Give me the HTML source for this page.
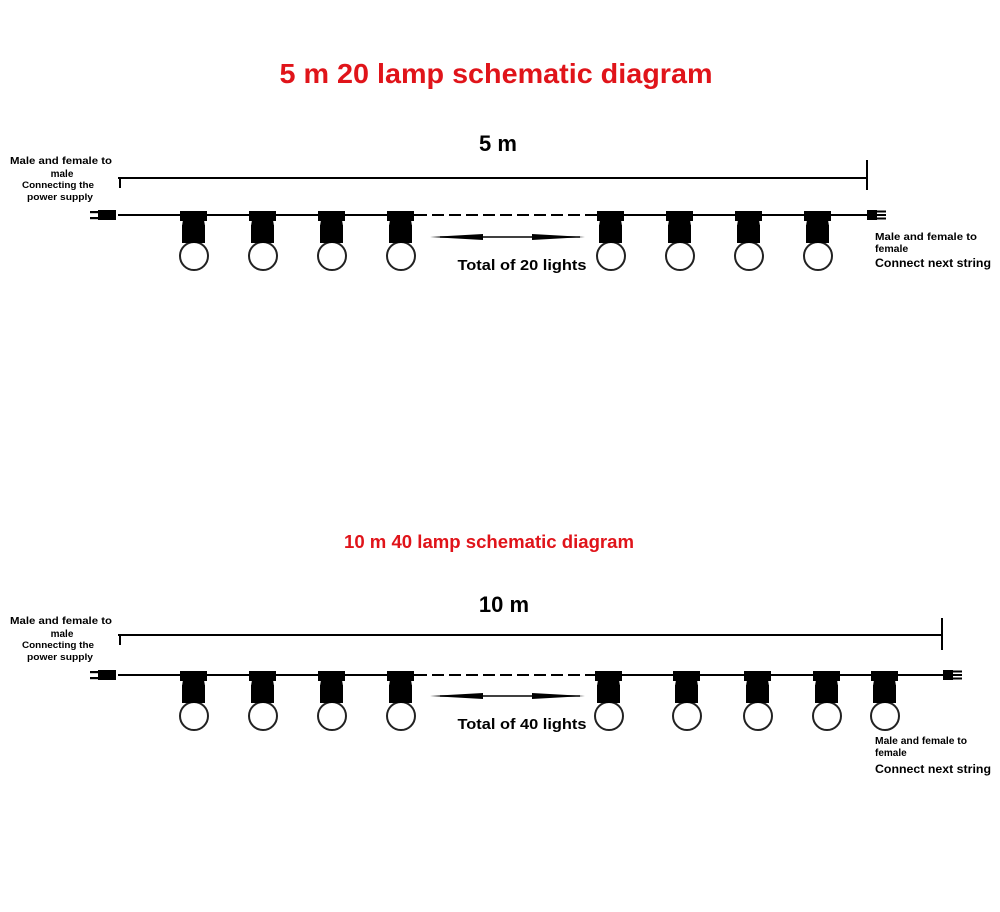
<!DOCTYPE html>
<html><head><meta charset="utf-8"><style>
html,body{margin:0;padding:0;background:#fff;}
svg{display:block;}
text{font-family:"Liberation Sans",sans-serif;font-weight:bold;}
</style></head><body>
<svg width="1000" height="912" viewBox="0 0 1000 912" xmlns="http://www.w3.org/2000/svg">
<defs>
<g id="lamp">
<rect x="-13" y="-4" width="27" height="10" fill="#000"/>
<polygon points="-10,5 11,5 12,11 -11,11" fill="#000"/>
<circle cx="1" cy="41" r="14" fill="#fff" stroke="#222" stroke-width="2"/>
<rect x="-11" y="10" width="23" height="18" fill="#000"/>
</g>
<g id="plugL">
<rect x="10" y="-5" width="18" height="10" fill="#000"/>
<rect x="2" y="-4" width="9" height="2.2" fill="#000"/>
<rect x="2" y="2" width="9" height="2.2" fill="#000"/>
</g>
<g id="plugR">
<rect x="0" y="-5" width="10" height="10" fill="#000"/>
<rect x="10" y="-4.5" width="9" height="2" fill="#000"/>
<rect x="10" y="-1" width="9" height="2" fill="#000"/>
<rect x="10" y="2.5" width="9" height="2" fill="#000"/>
</g>
<g id="arrow">
<line x1="440" y1="0" x2="580" y2="0" stroke="#000" stroke-width="1.5"/>
<polygon points="430,0 483,-3 483,3" fill="#000"/>
<polygon points="585,0 532,-3 532,3" fill="#000"/>
</g>
</defs>

<text x="496" y="83" text-anchor="middle" font-size="28" fill="#e0141a" textLength="433" lengthAdjust="spacingAndGlyphs">5 m 20 lamp schematic diagram</text>
<text x="498" y="151" text-anchor="middle" font-size="22" fill="#000">5 m</text>

<text x="61" y="164" text-anchor="middle" font-size="10.5" fill="#000" textLength="102" lengthAdjust="spacingAndGlyphs">Male and female to</text>
<text x="62" y="177" text-anchor="middle" font-size="10" fill="#000">male</text>
<text x="58" y="188" text-anchor="middle" font-size="9.5" fill="#000" textLength="72" lengthAdjust="spacingAndGlyphs">Connecting the</text>
<text x="60" y="200" text-anchor="middle" font-size="9.5" fill="#000" textLength="66" lengthAdjust="spacingAndGlyphs">power supply</text>

<line x1="118" y1="178" x2="867" y2="178" stroke="#000" stroke-width="2"/>
<line x1="867" y1="160" x2="867" y2="190" stroke="#000" stroke-width="2"/>
<line x1="120" y1="178" x2="120" y2="188" stroke="#000" stroke-width="2"/>

<line x1="118" y1="215" x2="415" y2="215" stroke="#000" stroke-width="2"/>
<line x1="415" y1="215" x2="595" y2="215" stroke="#000" stroke-width="2" stroke-dasharray="12,5"/>
<line x1="595" y1="215" x2="867" y2="215" stroke="#000" stroke-width="2"/>
<use href="#plugL" x="88" y="215"/>
<use href="#plugR" x="867" y="215"/>
<use href="#lamp" x="193" y="215"/>
<use href="#lamp" x="262" y="215"/>
<use href="#lamp" x="331" y="215"/>
<use href="#lamp" x="400" y="215"/>
<use href="#lamp" x="610" y="215"/>
<use href="#lamp" x="679" y="215"/>
<use href="#lamp" x="748" y="215"/>
<use href="#lamp" x="817" y="215"/>
<use href="#arrow" x="0" y="237"/>
<text x="522" y="270" text-anchor="middle" font-size="15" fill="#000" textLength="129" lengthAdjust="spacingAndGlyphs">Total of 20 lights</text>

<text x="875" y="240" font-size="10.5" fill="#000" textLength="102" lengthAdjust="spacingAndGlyphs">Male and female to</text>
<text x="875" y="252" font-size="10.5" fill="#000">female</text>
<text x="875" y="267" font-size="12" fill="#000" textLength="116" lengthAdjust="spacingAndGlyphs">Connect next string</text>

<text x="489" y="548" text-anchor="middle" font-size="18" fill="#e0141a" textLength="290" lengthAdjust="spacingAndGlyphs">10 m 40 lamp schematic diagram</text>
<text x="504" y="612" text-anchor="middle" font-size="22" fill="#000">10 m</text>

<text x="61" y="624" text-anchor="middle" font-size="10.5" fill="#000" textLength="102" lengthAdjust="spacingAndGlyphs">Male and female to</text>
<text x="62" y="637" text-anchor="middle" font-size="10" fill="#000">male</text>
<text x="58" y="648" text-anchor="middle" font-size="9.5" fill="#000" textLength="72" lengthAdjust="spacingAndGlyphs">Connecting the</text>
<text x="60" y="660" text-anchor="middle" font-size="9.5" fill="#000" textLength="66" lengthAdjust="spacingAndGlyphs">power supply</text>

<line x1="118" y1="635" x2="942" y2="635" stroke="#000" stroke-width="2"/>
<line x1="942" y1="618" x2="942" y2="650" stroke="#000" stroke-width="2"/>
<line x1="120" y1="635" x2="120" y2="645" stroke="#000" stroke-width="2"/>

<line x1="118" y1="675" x2="415" y2="675" stroke="#000" stroke-width="2"/>
<line x1="415" y1="675" x2="595" y2="675" stroke="#000" stroke-width="2" stroke-dasharray="12,5"/>
<line x1="595" y1="675" x2="943" y2="675" stroke="#000" stroke-width="2"/>
<use href="#plugL" x="88" y="675"/>
<use href="#plugR" x="943" y="675"/>
<use href="#lamp" x="193" y="675"/>
<use href="#lamp" x="262" y="675"/>
<use href="#lamp" x="331" y="675"/>
<use href="#lamp" x="400" y="675"/>
<use href="#lamp" x="608" y="675"/>
<use href="#lamp" x="686" y="675"/>
<use href="#lamp" x="757" y="675"/>
<use href="#lamp" x="826" y="675"/>
<use href="#lamp" x="884" y="675"/>
<use href="#arrow" x="0" y="696"/>
<text x="522" y="729" text-anchor="middle" font-size="15" fill="#000" textLength="129" lengthAdjust="spacingAndGlyphs">Total of 40 lights</text>

<text x="875" y="744" font-size="10" fill="#000" textLength="92" lengthAdjust="spacingAndGlyphs">Male and female to</text>
<text x="875" y="756" font-size="10" fill="#000">female</text>
<text x="875" y="773" font-size="12" fill="#000" textLength="116" lengthAdjust="spacingAndGlyphs">Connect next string</text>
</svg>
</body></html>
